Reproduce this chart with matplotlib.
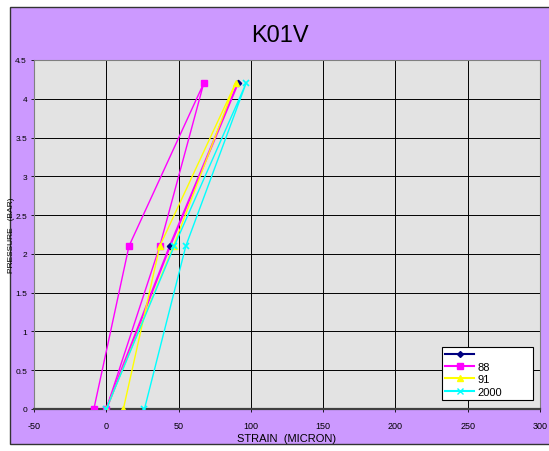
import matplotlib.pyplot as plt
from matplotlib.lines import Line2D
from matplotlib.patches import Rectangle

# readings (strain in micron, pressure in bar)
strain_blank = [0, 44, 91]
press_blank = [0, 2.1, 4.2]

strain_88 = [-8.6, 15.7, 67.4, 37, 0]
press_88 = [0, 2.1, 4.2, 2.1, 0]

strain_91 = [0, 46.5, 89.4, 37, 11.8]
press_91 = [0, 2.1, 4.2, 2.1, 0]

strain_2000 = [0, 47, 96.7, 55, 26.4]
press_2000 = [0, 2.1, 4.2, 2.1, 0]

x_ticks = [-50, 0, 50, 100, 150, 200, 250, 300]
y_ticks = [0, 0.5, 1, 1.5, 2, 2.5, 3, 3.5, 4, 4.5]

plt.rcParams['font.family'] = ['Liberation Sans', 'DejaVu Sans']

fig = plt.figure(figsize=(5.49, 4.52), dpi=100)
fig.patch.set_facecolor('white')
bg = Rectangle((10 / 549, 1 - 445 / 452), 1.0, 437 / 452,
               transform=fig.transFigure, facecolor='#CC99FF',
               edgecolor='#333333', linewidth=1.0, zorder=-10)
fig.add_artist(bg)

ax = fig.add_axes([34 / 549, 1 - 410 / 452, 506 / 549, 349 / 452])
ax.set_zorder(1)
ax.set_facecolor('#E3E3E3')

ax.plot(strain_blank, press_blank, color='#FF00FF', lw=1.6, zorder=3)
ax.plot(strain_blank, press_blank, ls='none', marker='D', ms=3.2,
        color='#000080', zorder=4)
ax.plot(strain_88, press_88, color='#FF00FF', lw=1.0, marker='s', ms=4.2,
        markerfacecolor='#FF00FF', zorder=4)
ax.plot(strain_91, press_91, color='#FFFF00', lw=1.0, marker='^', ms=4.5,
        zorder=4)
ax.plot(strain_2000, press_2000, color='#00FFFF', lw=1.0, marker='x', ms=4.5,
        mew=1.2, zorder=5)

ax.set_xlim(-50, 300)
ax.set_ylim(0, 4.5)
ax.set_xticks(x_ticks)
ax.set_yticks(y_ticks)
ax.set_xticklabels([str(v) for v in x_ticks], fontsize=6.5)
ax.set_yticklabels(['0', '0.5', '1', '1.5', '2', '2.5', '3', '3.5', '4', '4.5'],
                   fontsize=6)
ax.tick_params(axis='x', length=2, width=0.6, pad=7)
ax.tick_params(axis='y', length=2, width=0.6, pad=3)
ax.grid(True, color='black', lw=0.7)
ax.set_axisbelow(True)
for side in ['top', 'right', 'left']:
    ax.spines[side].set_color('#808080')
    ax.spines[side].set_linewidth(0.8)
ax.spines['bottom'].set_color('#404040')
ax.spines['bottom'].set_linewidth(1.6)

ax.set_xlabel('STRAIN  (MICRON)', fontsize=8, va='center')
ax.xaxis.set_label_coords(0.5, -0.083)
ax.set_ylabel('PRESSURE   (BAR)', fontsize=6, va='center')
ax.yaxis.set_label_coords(-0.0435, 0.5)
fig.text(280 / 549, 1 - 36 / 452, 'K01V', fontsize=17, ha='center',
         va='center')

handles = [
    Line2D([], [], color='#000080', marker='D', ms=3),
    Line2D([], [], color='#FF00FF', marker='s', ms=4),
    Line2D([], [], color='#FFFF00', marker='^', ms=4),
    Line2D([], [], color='#00FFFF', marker='x', ms=4),
]
leg = ax.legend(handles, ['', '88', '91', '2000'], loc='lower left',
                bbox_to_anchor=(0.806, 0.026, 0.18, 0.163), mode='expand',
                fontsize=8, frameon=True, fancybox=False, framealpha=1,
                edgecolor='black', borderpad=0.3, labelspacing=0.2,
                handlelength=2.6, handletextpad=0.3, borderaxespad=0)
leg.get_frame().set_linewidth(0.8)

fig.savefig('out.png', dpi=100, facecolor=fig.get_facecolor())
